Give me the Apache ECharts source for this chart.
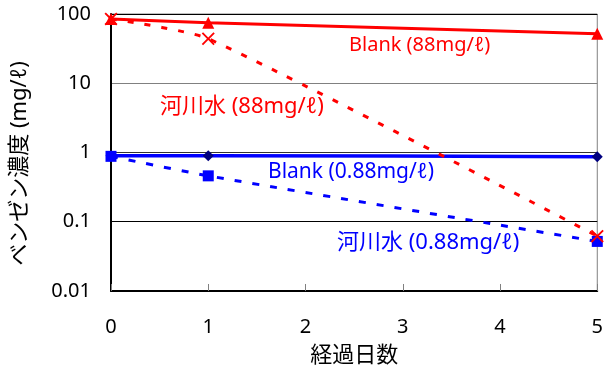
<!DOCTYPE html>
<html>
<head>
<meta charset="utf-8">
<script src="https://cdn.jsdelivr.net/npm/echarts@6/dist/echarts.min.js"></script>
<style>
html,body{margin:0;padding:0;background:#fff;}
#chart{width:606px;height:372px;}
</style>
</head>
<body>
<div id="chart"></div>
<script>
// ---- data ----
const days = [0, 1, 5];
const blank88 = [85, 75, 52];
const river88 = [85, 44, 0.062];
const blank088 = [0.9, 0.9, 0.87];
const river088 = [0.88, 0.46, 0.052];
const xTicks = ['0', '1', '2', '3', '4', '5'];
const yTickLabels = ['0.01', '0.1', '1', '10', '100'];
const names = ['Blank (88mg/ℓ)', '河川水 (88mg/ℓ)', 'Blank (0.88mg/ℓ)', '河川水 (0.88mg/ℓ)'];
const xName = '経過日数';
const yName = 'ベンゼン濃度 (mg/ℓ)';

const FONT = '"Noto Sans", "Noto Sans CJK JP", sans-serif';
const RED = '#FF0000', BLUE = '#0000FF', NAVY = '#000080';
const xMark = 'path://M0,1 L1,0 L5,4 L9,0 L10,1 L6,5 L10,9 L9,10 L5,6 L1,10 L0,9 L4,5 Z';

function pairs(ys){ return days.map((d,i)=>[d, ys[i]]); }

const chart = echarts.init(document.getElementById('chart'), null, {renderer:'canvas'});
chart.setOption({
  animation: false,
  backgroundColor: '#fff',
  grid: {left: 111, right: 8, top: 14, bottom: 80, show: true, borderColor: '#808080', borderWidth: 1},
  xAxis: {
    type: 'value', min: 0, max: 5, interval: 1,
    name: xName, nameLocation: 'middle', nameGap: 54,
    nameTextStyle: {fontFamily: FONT, fontSize: 22, color: '#000'},
    axisLine: {lineStyle: {color: '#000', width: 2}},
    axisTick: {inside: true, length: 7, lineStyle: {color: '#808080', width: 1}},
    axisLabel: {margin: 26, fontFamily: FONT, fontSize: 20, color: '#000',
      formatter: v => xTicks[Math.round(v)]},
    splitLine: {show: false}
  },
  yAxis: {
    type: 'log', logBase: 10, min: 0.01, max: 100,
    name: yName, nameLocation: 'middle', nameGap: 80,
    nameTextStyle: {fontFamily: FONT, fontSize: 22, color: '#000', padding: [0, 22, 0, 0]},
    axisLine: {lineStyle: {color: '#000', width: 2}},
    axisTick: {show: false},
    axisLabel: {margin: 20, fontFamily: FONT, fontSize: 20, color: '#000',
      formatter: v => yTickLabels[Math.round(Math.log10(v)) + 2]},
    splitLine: {show: true, lineStyle: {color: ['#000', '#000', '#333', '#808080', '#000'], width: 1}}
  },
  series: [
    {
      name: names[2], type: 'line', data: pairs(blank088), smooth: 0.2,
      lineStyle: {color: BLUE, width: 3.5},
      symbol: 'diamond', symbolSize: 11, itemStyle: {color: NAVY}
    },
    {
      name: names[3], type: 'line', data: pairs(river088), smooth: 0.2,
      lineStyle: {color: BLUE, width: 3, type: [7, 11]},
      symbol: 'rect', symbolSize: 11, itemStyle: {color: BLUE}
    },
    {
      name: names[0], type: 'line', data: pairs(blank88), smooth: 0.2,
      lineStyle: {color: RED, width: 3},
      symbol: 'triangle', symbolSize: 12, itemStyle: {color: RED}
    },
    {
      name: names[1], type: 'line', data: pairs(river88), smooth: 0.2,
      lineStyle: {color: RED, width: 3, type: [6, 11]},
      symbol: xMark, symbolSize: 13, itemStyle: {color: RED}
    }
  ],
  graphic: [
    {type: 'text', x: 349, y: 45, style: {text: names[0], fill: RED, font: '20px ' + FONT, textVerticalAlign: 'middle'}},
    {type: 'text', x: 160, y: 107, style: {text: names[1], fill: RED, font: '22px ' + FONT, textVerticalAlign: 'middle'}},
    {type: 'text', x: 268, y: 172, style: {text: names[2], fill: BLUE, font: '21px ' + FONT, textVerticalAlign: 'middle'}},
    {type: 'text', x: 337, y: 243, style: {text: names[3], fill: BLUE, font: '22px ' + FONT, textVerticalAlign: 'middle'}}
  ]
});
</script>
</body>
</html>
